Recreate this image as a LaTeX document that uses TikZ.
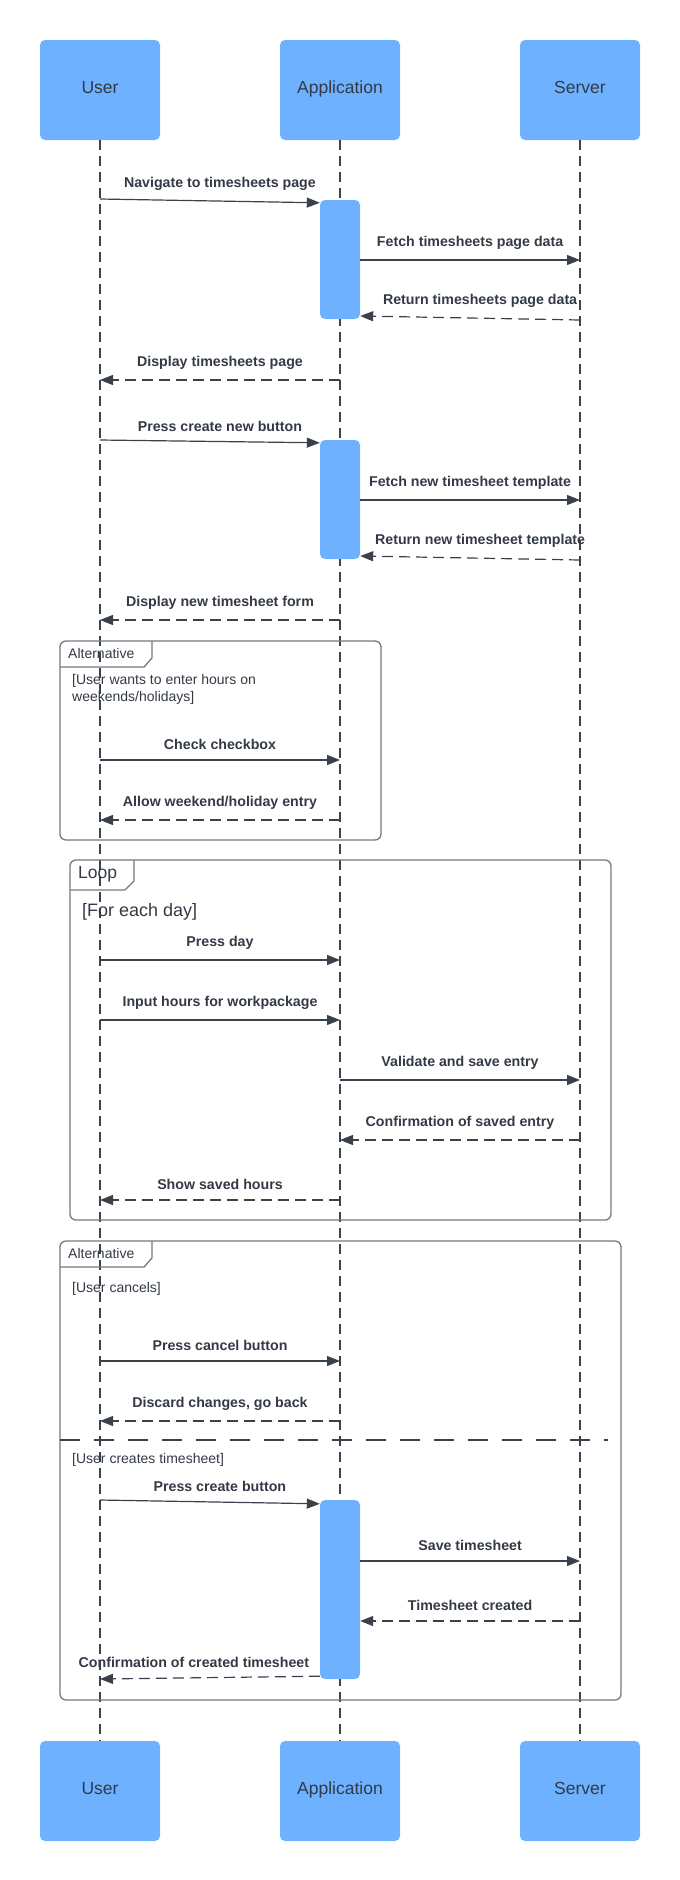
\documentclass[tikz,border=0pt]{standalone}
\usepackage{fontspec}
\setmainfont{Liberation Sans}
\usetikzlibrary{arrows.meta}
\definecolor{boxblue}{HTML}{6DB1FF}
\definecolor{ink}{HTML}{3A414A}
\definecolor{txt}{HTML}{333A45}
\definecolor{framegray}{HTML}{75787D}

\begin{document}
\begin{tikzpicture}[x=1pt, y=-1pt, >={Triangle[length=13pt,width=10pt]}]
		\useasboundingbox (0,0) rectangle (680,1880);
		\tikzstyle{actor} = [rectangle, rounded corners=5pt, fill=boxblue, minimum width=120pt, minimum height=100pt, text height=1.3ex, text depth=0pt, text=txt, font=\fontsize{17.5}{20}\selectfont]
		\tikzstyle{act} = [rectangle, rounded corners=5pt, fill=boxblue, minimum width=40pt, inner sep=0pt]
		\tikzstyle{life} = [ink, line width=1.1pt, dash pattern=on 10pt off 6pt]
		\tikzstyle{call} = [->, ink, line width=1.2pt]
		\tikzstyle{reply} = [->, ink, line width=1.2pt, dash pattern=on 11pt off 6pt]
		\tikzstyle{lbl} = [midway, above=8.5pt, inner sep=1pt, text=txt, font=\bfseries\fontsize{14.2}{16}\selectfont]
		\tikzstyle{frame} = [framegray, line width=1.3pt]
		\tikzstyle{guard} = [anchor=west, inner sep=0pt, text=txt, align=left, font=\fontsize{14}{17}\selectfont]

		% participants
		\node[actor] (user) at (100,90) {User};
		\node[actor] (app) at (340,90) {Application};
		\node[actor] (server) at (580,90) {Server};
		\node[actor] (userb) at (100,1791) {User};
		\node[actor] (appb) at (340,1791) {Application};
		\node[actor] (serverb) at (580,1791) {Server};

		\draw[life] (user) -- (userb);
		\draw[life] (app) -- (appb);
		\draw[life] (server) -- (serverb);

		% fragments
		\draw[frame, rounded corners=6pt] (60,641) rectangle (381,840);
		\draw[frame] (60,667) -- (144,667) -- (152,658) -- (152,641);
		\node[guard] (alt1) at (68,653) {Alternative};
		\node[guard, anchor=north west] (g1) at (72,674) {[User wants to enter hours on\\weekends/holidays]};

		\draw[frame, rounded corners=6pt] (70,860) rectangle (611,1220);
		\draw[frame] (70,890) -- (125,890) -- (134,881) -- (134,860);
		\node[guard, font=\fontsize{17.5}{20}\selectfont] (loop) at (78,874) {Loop};
		\node[guard, font=\fontsize{18}{20}\selectfont] (g2) at (82,912) {[For each day]};

		\draw[frame, rounded corners=6pt] (60,1241) rectangle (621,1700);
		\draw[frame] (60,1267) -- (144,1267) -- (152,1258) -- (152,1241);
		\node[guard] (alt2) at (68,1253) {Alternative};
		\node[guard] (g3) at (72,1289) {[User cancels]};
		\draw[ink, line width=1.3pt, dash pattern=on 20pt off 14pt] (60,1440) -- (608,1440);
		\node[guard] (g4) at (72,1460) {[User creates timesheet]};

		% activations
		\node[act, minimum height=119pt] (act1) at (340,259.5) {};
		\node[act, minimum height=119pt] (act2) at (340,499.5) {};
		\node[act, minimum height=179pt] (act3) at (340,1589.5) {};

		% messages
		\draw[call] (user |- 0,199) -- node[lbl, xshift=10pt] {Navigate to timesheets page} ([yshift=-3pt]act1.north west);
		\draw[call] (act1.east |- 0,260) -- node[lbl] {Fetch timesheets page data} (server |- 0,260);
		\draw[reply] (server |- 0,320) -- node[lbl, xshift=10pt] {Return timesheets page data} (act1.east |- 0,316);
		\draw[reply] (app |- 0,380) -- node[lbl] {Display timesheets page} (user |- 0,380);
		\draw[call] (user |- 0,440) -- node[lbl, xshift=10pt] {Press create new button} ([yshift=-3pt]act2.north west);
		\draw[call] (act2.east |- 0,500) -- node[lbl] {Fetch new timesheet template} (server |- 0,500);
		\draw[reply] (server |- 0,560) -- node[lbl, xshift=10pt] {Return new timesheet template} (act2.east |- 0,556);
		\draw[reply] (app |- 0,620) -- node[lbl] {Display new timesheet form} (user |- 0,620);

		\draw[call] (user |- 0,760) -- node[lbl] {Check checkbox} (app |- 0,760);
		\draw[reply] (app |- 0,820) -- node[lbl] {Allow weekend/holiday entry} (user |- 0,820);

		\draw[call] (user |- 0,960) -- node[lbl] {Press day} (app |- 0,960);
		\draw[call] (user |- 0,1020) -- node[lbl] {Input hours for workpackage} (app |- 0,1020);
		\draw[call] (app |- 0,1080) -- node[lbl] {Validate and save entry} (server |- 0,1080);
		\draw[reply] (server |- 0,1140) -- node[lbl] {Confirmation of saved entry} (app |- 0,1140);
		\draw[reply] (app |- 0,1200) -- node[lbl] {Show saved hours} (user |- 0,1200);

		\draw[call] (user |- 0,1361) -- node[lbl] {Press cancel button} (app |- 0,1361);
		\draw[reply] (app |- 0,1421) -- node[lbl] {Discard changes, go back} (user |- 0,1421);

		\draw[call] (user |- 0,1500) -- node[lbl, xshift=10pt] {Press create button} ([yshift=-4pt]act3.north west);
		\draw[call] (act3.east |- 0,1561) -- node[lbl] {Save timesheet} (server |- 0,1561);
		\draw[reply] (server |- 0,1621) -- node[lbl] {Timesheet created} (act3.east |- 0,1621);
		\draw[reply] ([yshift=3pt]act3.south west) -- node[lbl, xshift=-16pt] {Confirmation of created timesheet} (user |- 0,1679);
		\end{tikzpicture}
\end{document}
